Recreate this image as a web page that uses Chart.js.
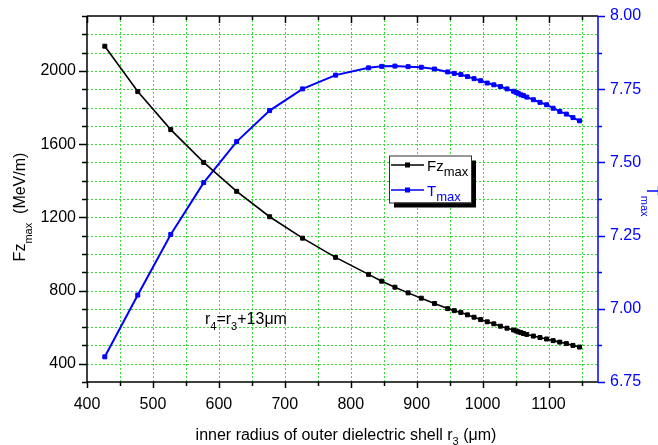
<!DOCTYPE html>
<html>
<head>
<meta charset="utf-8">
<script src="https://cdn.jsdelivr.net/npm/chart.js@4.4.1/dist/chart.umd.min.js"></script>
<style>
html, body { margin: 0; padding: 0; background: #fff; }
#chart { display: block; }
</style>
</head>
<body>
<canvas id="chart" width="658" height="445"></canvas>
<script>
// inner radius of outer dielectric shell r3 (um)
const r3 = [427, 477, 527, 577, 627, 677, 727, 777, 827, 847, 867, 887, 907, 927,
    947, 957, 967, 977, 987, 997, 1007, 1017, 1027, 1037, 1047, 1051, 1054, 1058,
    1062, 1067, 1077, 1087, 1097, 1107, 1117, 1127, 1137, 1147];

// Fz max (MeV/m), left axis
const fzMax = [2135, 1887, 1679, 1500, 1342, 1203, 1086, 981, 888, 851, 818, 787, 758, 729,
    701, 690, 680, 667, 654, 641, 629, 618, 605, 594, 584, 579, 574, 570,
    565, 560, 551, 543, 535, 526, 518, 510, 500, 491];

// T max, right axis
const tMax = [6.836, 7.047, 7.254, 7.431, 7.571, 7.677, 7.751, 7.798, 7.823, 7.828, 7.829, 7.827, 7.825, 7.819,
    7.809, 7.804, 7.800, 7.793, 7.786, 7.779, 7.771, 7.765, 7.759, 7.751, 7.743, 7.739, 7.736, 7.731,
    7.728, 7.723, 7.714, 7.705, 7.697, 7.685, 7.674, 7.665, 7.653, 7.642];

const xTickLabels = [400, 500, 600, 700, 800, 900, 1000, 1100];
const fzTickLabels = [400, 800, 1200, 1600, 2000];
const tTickLabels = [6.75, 7.00, 7.25, 7.50, 7.75, 8.00];

const FONT = "'Liberation Sans', Arial, sans-serif";
const GREEN = '#3ad83a';
const BLUE = '#0000ff';

// plot frame on the 658x445 canvas
const AREA = { left: 87, top: 16, right: 598, bottom: 382 };

Chart.defaults.font.family = FONT;
Chart.defaults.font.size = 16;
Chart.defaults.color = '#000';

function range(from, to, step) {
    const out = [];
    for (let v = from; v <= to + 1e-9; v += step) out.push(Math.round(v * 1000) / 1000);
    return out;
}

const xVals = range(400, 1150, 50);
const fzVals = range(300, 2300, 100);
const tVals = range(6.75, 8, 0.125);

const near = (a, b) => Math.abs(a - b) < 1e-6;

// text with subscripts: parts = [[text, isSub], ...]
function richWidth(ctx, parts, size, subSize) {
    let w = 0;
    parts.forEach(([t, sub]) => {
        ctx.font = (sub ? subSize : size) + 'px ' + FONT;
        w += ctx.measureText(t).width;
    });
    return w;
}

function drawRich(ctx, parts, x, y, size, subSize, subDrop, align) {
    const w = richWidth(ctx, parts, size, subSize);
    let cx = align === 'center' ? x - w / 2 : x;
    ctx.textAlign = 'left';
    ctx.textBaseline = 'alphabetic';
    parts.forEach(([t, sub]) => {
        ctx.font = (sub ? subSize : size) + 'px ' + FONT;
        ctx.fillText(t, cx, sub ? y + subDrop : y);
        cx += ctx.measureText(t).width;
    });
}

function line(ctx, x1, y1, x2, y2) {
    ctx.beginPath();
    ctx.moveTo(x1, y1);
    ctx.lineTo(x2, y2);
    ctx.stroke();
}

const decor = {
    id: 'decor',
    beforeDatasetsDraw(chart) {
        const { ctx, chartArea: a, scales } = chart;
        ctx.save();
        ctx.strokeStyle = GREEN;
        ctx.lineWidth = 1;
        ctx.setLineDash([2, 2]);
        xVals.forEach(v => {
            if (v <= 400) return;
            const px = Math.round(scales.x.getPixelForValue(v)) + 0.5;
            line(ctx, px, a.top, px, a.bottom);
        });
        fzVals.forEach(v => {
            if (v <= 300 || v >= 2300) return;
            const py = Math.round(scales.y.getPixelForValue(v)) + 0.5;
            line(ctx, a.left, py, a.right, py);
        });
        ctx.restore();
    },
    afterDraw(chart) {
        const { ctx, chartArea: a, scales } = chart;
        ctx.save();
        ctx.setLineDash([]);
        ctx.lineWidth = 1.5;

        // ticks
        ctx.strokeStyle = '#000';
        xVals.forEach(v => {
            const px = Math.round(scales.x.getPixelForValue(v)) + 0.5;
            const major = v % 100 === 0;
            line(ctx, px, a.bottom, px, a.bottom + (major ? 6 : 4));
            line(ctx, px, a.top, px, a.top + (major ? 7 : 4));
        });
        fzVals.forEach(v => {
            const py = Math.round(scales.y.getPixelForValue(v)) + 0.5;
            line(ctx, a.left, py, a.left - (v % 400 === 0 ? 8 : 5), py);
        });
        ctx.strokeStyle = BLUE;
        tVals.forEach(v => {
            const py = Math.round(scales.y1.getPixelForValue(v)) + 0.5;
            const major = tTickLabels.some(l => near(l, v));
            line(ctx, a.right, py, a.right + (major ? 7 : 4), py);
        });

        // frame
        ctx.strokeStyle = '#000';
        line(ctx, a.left, a.top, a.right, a.top);
        line(ctx, a.left, a.top, a.left, a.bottom);
        line(ctx, a.left, a.bottom, a.right, a.bottom);
        ctx.strokeStyle = BLUE;
        line(ctx, a.right, a.top, a.right, a.bottom);

        // axis titles
        ctx.fillStyle = '#000';
        drawRich(ctx, [['inner radius of outer dielectric shell r', false], ['3', true], [' (\u03bcm)', false]],
            346, 440, 16, 11, 5, 'center');

        ctx.save();
        ctx.translate(24.5, 207);
        ctx.rotate(-Math.PI / 2);
        drawRich(ctx, [['Fz', false], ['max', true], ['  (MeV/m)', false]], 0, 0, 16, 11, 7, 'center');
        ctx.restore();

        ctx.save();
        ctx.fillStyle = BLUE;
        ctx.translate(647, 186);
        ctx.rotate(Math.PI / 2);
        drawRich(ctx, [['T', false], ['max', true]], 0, 0, 16, 11, 6, 'left');
        ctx.restore();

        // annotation
        ctx.fillStyle = '#000';
        drawRich(ctx, [['r', false], ['4', true], ['=r', false], ['3', true], ['+13\u03bcm', false]],
            205, 324, 16, 11, 6, 'left');

        // legend box with shadow
        const lx = 389, ly = 155.5, lw = 82, lh = 47;
        ctx.fillStyle = '#000';
        ctx.fillRect(lx + 5, ly + 5, lw, lh);
        ctx.fillStyle = '#fff';
        ctx.fillRect(lx, ly, lw, lh);
        ctx.strokeStyle = '#333';
        ctx.lineWidth = 1;
        ctx.strokeRect(lx + 0.5, ly + 0.5, lw, lh);

        const items = [
            { color: '#000', y: 165, parts: [['Fz', false], ['max', true]] },
            { color: BLUE, y: 190, parts: [['T', false], ['max', true]] }
        ];
        items.forEach(it => {
            ctx.strokeStyle = it.color;
            ctx.fillStyle = it.color;
            ctx.lineWidth = 1.6;
            line(ctx, 391, it.y, 424, it.y);
            ctx.fillRect(405, it.y - 2.5, 5, 5);
            drawRich(ctx, it.parts, 427, it.y + 5.5, 15, 13, 5.5, 'left');
        });
        ctx.restore();
    }
};

const toPoints = ys => r3.map((x, i) => ({ x: x, y: ys[i] }));

// small lineHeight keeps the vertical axes from asking for extra top room
const vTickFont = { family: FONT, size: 16, lineHeight: 0.5 };

new Chart(document.getElementById('chart'), {
    type: 'line',
    data: {
        datasets: [
            {
                label: 'Fz max',
                data: toPoints(fzMax),
                yAxisID: 'y',
                borderColor: '#000',
                backgroundColor: '#000',
                borderWidth: 1.6,
                pointStyle: 'rect',
                pointRadius: 2.8,
                pointBorderWidth: 1,
                tension: 0,
                fill: false
            },
            {
                label: 'T max',
                data: toPoints(tMax),
                yAxisID: 'y1',
                borderColor: BLUE,
                backgroundColor: BLUE,
                borderWidth: 2,
                pointStyle: 'rect',
                pointRadius: 2.8,
                pointBorderWidth: 1,
                tension: 0,
                fill: false
            }
        ]
    },
    options: {
        responsive: false,
        animation: false,
        layout: {
            autoPadding: false,
            padding: { top: AREA.top, left: 0, right: 0, bottom: 0 }
        },
        plugins: {
            legend: { display: false },
            tooltip: { enabled: false }
        },
        scales: {
            x: {
                type: 'linear',
                position: 'bottom',
                min: 400,
                max: 1175,
                afterBuildTicks: s => { s.ticks = xVals.map(v => ({ value: v })); },
                afterFit: s => { s.height = 445 - AREA.bottom; },
                grid: { display: false, drawTicks: false },
                border: { display: false },
                ticks: {
                    autoSkip: false,
                    maxRotation: 0,
                    padding: 13,
                    color: '#000',
                    callback: v => xTickLabels.includes(v) ? String(v) : ''
                }
            },
            y: {
                type: 'linear',
                position: 'left',
                min: 300,
                max: 2300,
                afterBuildTicks: s => { s.ticks = fzVals.map(v => ({ value: v })); },
                afterFit: s => { s.width = AREA.left; },
                grid: { display: false, drawTicks: false },
                border: { display: false },
                ticks: {
                    autoSkip: false,
                    padding: 11,
                    font: vTickFont,
                    color: '#000',
                    callback: v => fzTickLabels.includes(v) ? String(v) : ''
                }
            },
            y1: {
                type: 'linear',
                position: 'right',
                min: 6.75,
                max: 8,
                afterBuildTicks: s => { s.ticks = tVals.map(v => ({ value: v })); },
                afterFit: s => { s.width = 658 - AREA.right; },
                grid: { display: false, drawTicks: false },
                border: { display: false },
                ticks: {
                    autoSkip: false,
                    padding: 12,
                    font: vTickFont,
                    color: BLUE,
                    callback: v => {
                        const l = tTickLabels.find(t => near(t, v));
                        return l === undefined ? '' : l.toFixed(2);
                    }
                }
            }
        }
    },
    plugins: [decor]
});
</script>
</body>
</html>
